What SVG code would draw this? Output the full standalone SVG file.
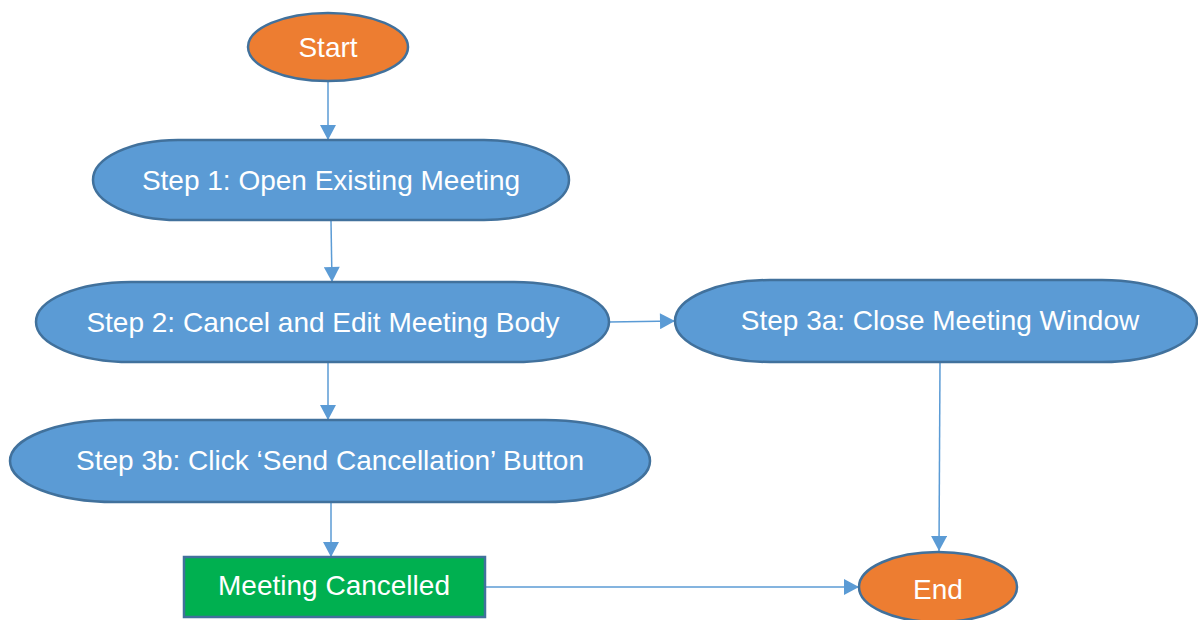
<svg xmlns="http://www.w3.org/2000/svg" width="1198" height="620" viewBox="0 0 1198 620">
  <defs>
    <marker id="arrow" markerUnits="userSpaceOnUse" markerWidth="16" markerHeight="16" viewBox="0 0 15 16" refX="15" refY="8" orient="auto">
      <path d="M0,0 L15,8 L0,16 Z" fill="#5B9BD5"/>
    </marker>
  </defs>
  <style>
    .step { fill: #5B9BD5; stroke: #41719C; stroke-width: 2.5; }
    .term { fill: #ED7D31; stroke: #41719C; stroke-width: 2.5; }
    .box { fill: #00B050; stroke: #41719C; stroke-width: 2.5; }
    .lbl { font-family: "Liberation Sans", Arial, sans-serif; font-size: 28px; fill: #FFFFFF; text-anchor: middle; dominant-baseline: central; }
    .conn { stroke: #5B9BD5; stroke-width: 1.5; fill: none; marker-end: url(#arrow); }
  </style>
  <rect width="1198" height="620" fill="#FFFFFF"/>
  <g id="connectors">
    <line class="conn" x1="328" y1="82" x2="328" y2="140"/>
    <line class="conn" x1="331" y1="221" x2="332" y2="282"/>
    <line class="conn" x1="609" y1="322" x2="675" y2="321"/>
    <line class="conn" x1="328" y1="363" x2="328" y2="420"/>
    <line class="conn" x1="940" y1="363" x2="939" y2="551"/>
    <line class="conn" x1="331" y1="503" x2="331" y2="557"/>
    <line class="conn" x1="486" y1="587" x2="859" y2="587"/>
  </g>
  <g id="start">
    <ellipse class="term" cx="328" cy="47" rx="80" ry="34"/>
    <text class="lbl" x="328" y="47">Start</text>
  </g>
  <g id="step1">
    <rect class="step" x="93" y="140" width="476" height="80" rx="85" ry="40"/>
    <text class="lbl" x="331" y="180">Step 1: Open Existing Meeting</text>
  </g>
  <g id="step2">
    <rect class="step" x="36" y="282" width="573" height="80" rx="95" ry="40"/>
    <text class="lbl" x="323" y="322">Step 2: Cancel and Edit Meeting Body</text>
  </g>
  <g id="step3a">
    <rect class="step" x="675" y="280" width="522" height="82" rx="95" ry="41"/>
    <text class="lbl" x="940" y="320">Step 3a: Close Meeting Window</text>
  </g>
  <g id="step3b">
    <rect class="step" x="10" y="420" width="640" height="82" rx="105" ry="41"/>
    <text class="lbl" x="330" y="460">Step 3b: Click ‘Send Cancellation’ Button</text>
  </g>
  <g id="cancelled">
    <rect class="box" x="184" y="557" width="301" height="60"/>
    <text class="lbl" x="334" y="585">Meeting Cancelled</text>
  </g>
  <g id="end">
    <ellipse class="term" cx="938" cy="587" rx="79" ry="35"/>
    <text class="lbl" x="938" y="589">End</text>
  </g>
</svg>
